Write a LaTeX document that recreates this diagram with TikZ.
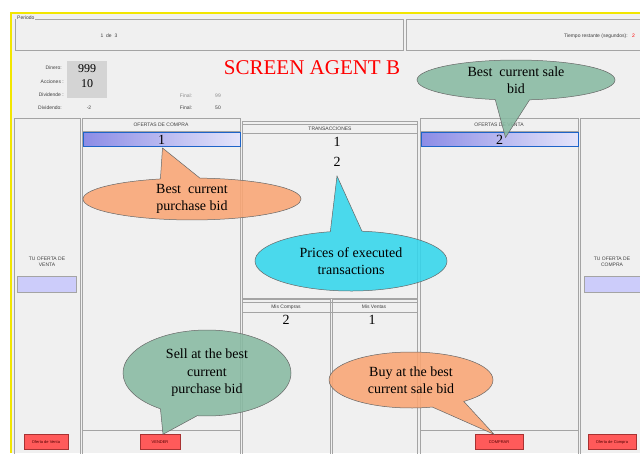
\documentclass[tikz,border=0pt]{standalone}
\usepackage{fontspec}
\setmainfont{Liberation Serif}
\setsansfont{Liberation Sans}
\usetikzlibrary{shapes.callouts}

\definecolor{winbg}{HTML}{F0F0F0}
\definecolor{framegray}{HTML}{A4A4A4}
\definecolor{winyellow}{HTML}{F2E600}
\definecolor{barblue}{HTML}{1E64C8}
\definecolor{barleft}{HTML}{8C8CE6}
\definecolor{barright}{HTML}{E4E4FA}
\definecolor{lavender}{HTML}{CCCCFA}
\definecolor{btnred}{HTML}{FF5A5A}
\definecolor{btnedge}{HTML}{A83232}
\definecolor{btntext}{HTML}{500000}
\definecolor{bubblegreen}{HTML}{88BAA2}
\definecolor{bubbleorange}{HTML}{FAA674}
\definecolor{bubblecyan}{HTML}{34D6EC}

\begin{document}
\begin{tikzpicture}[x=1pt,y=-1pt,
  frame/.style={draw=framegray, line width=0.8pt},
  uitext/.style={font=\sffamily\fontsize{5}{6}\selectfont, text=black!75, inner sep=0pt},
  bignum/.style={font=\fontsize{14}{14}\selectfont, inner sep=0pt},
  bidbar/.style={draw=barblue, line width=1pt, left color=barleft, right color=barright,
    minimum width=157, minimum height=14, inner sep=0pt, font=\fontsize{14}{14}\selectfont},
  entrybox/.style={draw=framegray, fill=lavender},
  button/.style={draw=btnedge, fill=btnred, font=\sffamily\fontsize{4}{5}\selectfont,
    text=btntext, inner sep=0pt, minimum height=15},
  bubble/.style={ellipse callout, draw=black!60, line width=0.5pt, fill opacity=0.88,
    text opacity=1, font=\fontsize{14}{17.5}\selectfont, align=center, inner sep=0pt},
]
\useasboundingbox (0,0) rectangle (640,453);
\fill[white] (0,0) rectangle (640,453);
% window
\fill[winbg] (11,13) rectangle (640,453);
\draw[winyellow, line width=2.2pt] (11,453) -- (11,13) -- (640,13);

% period row
\draw[frame] (15,19) rectangle (403,50);
\draw[frame] (406,19) rectangle (642,50);
\node[uitext, fill=winbg, anchor=west, inner sep=1pt] (periodo) at (16,18) {Periodo};
\node[uitext] (period) at (109,36) {1 \ de \ 3};
\node[uitext, anchor=east] (tiempo) at (628,36) {Tiempo restante (segundos):};
\node[uitext, text=red, anchor=west] (secs) at (632,36) {2};

% account info
\node[uitext, anchor=east] (dinero) at (62,68) {Dinero:};
\node[uitext, anchor=east] (acciones) at (64,82) {Acciones :};
\node[uitext, anchor=east] (dividende) at (64,95) {Dividende :};
\node[uitext, anchor=east] (dividendo) at (62,108) {Dividendo:};
\fill[black!17] (67,61) rectangle (107,98);
\node[font=\fontsize{12}{12}\selectfont, inner sep=0pt] (cash) at (87,69) {999};
\node[font=\fontsize{12}{12}\selectfont, inner sep=0pt] (shares) at (87,84) {10};
\node[uitext] (divval) at (89,108) {-2};
\node[uitext, text=black!45] (final1) at (186,96) {Final:};
\node[uitext, text=black!45] (finalval1) at (218,96) {99};
\node[uitext] (final2) at (186,108) {Final:};
\node[uitext] (finalval2) at (218,108) {50};
\node[font=\fontsize{21}{21}\selectfont, text=red, inner sep=0pt] (title) at (312,68) {SCREEN AGENT B};

% columns
\draw[frame] (14,118) rectangle (80,456);
\draw[frame] (82,118) rectangle (240,456);
\draw[frame] (82,131) -- (240,131);
\draw[frame] (82,430) -- (240,430);
\draw[frame] (242,121) rectangle (417,298);
\draw[frame] (242,124) -- (417,124);
\draw[frame] (242,133) -- (417,133);
\draw[frame] (242,299) rectangle (330,456);
\draw[frame] (332,299) rectangle (417,456);
\draw[frame] (242,302) -- (417,302);
\draw[frame] (242,312) -- (417,312);
\draw[frame] (420,118) rectangle (578,456);
\draw[frame] (420,131) -- (578,131);
\draw[frame] (420,430) -- (578,430);
\draw[frame] (580,118) rectangle (642,456);

\node[uitext] (buyhdr) at (161,125) {OFERTAS DE COMPRA};
\node[uitext] (tranhdr) at (330,128.5) {TRANSACCIONES};
\node[uitext] (sellhdr) at (499,125) {OFERTAS DE VENTA};
\node[uitext] (mybuyhdr) at (286,307) {Mis Compras};
\node[uitext] (mysellhdr) at (374,307) {Mis Ventas};

\node[bidbar] (buybar) at (161.5,139.5) {1};
\node[bidbar] (sellbar) at (499.5,139.5) {2};
\node[bignum] (trans1) at (337,142) {1};
\node[bignum] (trans2) at (337,162) {2};
\node[bignum] (mybuy) at (286,320) {2};
\node[bignum] (mysell) at (372,320) {1};

\node[uitext, align=center] (myask) at (47,262) {TU OFERTA DE\\VENTA};
\node[uitext, align=center] (mybid) at (612,262) {TU OFERTA DE\\COMPRA};
\draw[entrybox] (17,276) rectangle (76,292);
\draw[entrybox] (584,276) rectangle (642,292);

\node[button, minimum width=44] (askbtn) at (46,442) {Oferta de Venta};
\node[button, minimum width=40] (vender) at (160,442) {VENDER};
\node[button, minimum width=48] (comprar) at (499,442) {COMPRAR};
\node[button, minimum width=48] (bidbtn) at (612,442) {Oferta de Compra};

% callouts
\coordinate (pricetip) at (337,176);
\node[bubble, fill=bubblegreen, minimum width=198, minimum height=40,
  callout absolute pointer={([xshift=6pt,yshift=2pt]sellbar.center)}, callout pointer arc=20]
  (salenote) at (516,80) {Best\ \ current sale\\bid};
\node[bubble, fill=bubbleorange, minimum width=218, minimum height=38,
  callout absolute pointer={([xshift=1pt,yshift=-1pt]buybar.south)}, callout pointer arc=21]
  (buynote) at (192,199) {Best\ \ current\\purchase bid};
\node[bubble, fill=bubblecyan, minimum width=192, minimum height=60,
  callout absolute pointer={(pricetip)}, callout pointer arc=19]
  (pricenote) at (351,261) {Prices of executed\\transactions};
\node[bubble, fill=bubblegreen, minimum width=168, minimum height=86,
  callout absolute pointer={([xshift=3pt]vender.north)}, callout pointer arc=27]
  (sellnote) at (207,373) {Sell at the best\\current\\purchase bid};
\node[bubble, fill=bubbleorange, minimum width=164, minimum height=56,
  callout absolute pointer={([xshift=-5pt]comprar.north)}, callout pointer arc=25]
  (buynow) at (411,380) {Buy at the best\\current sale bid};
\end{tikzpicture}
\end{document}
